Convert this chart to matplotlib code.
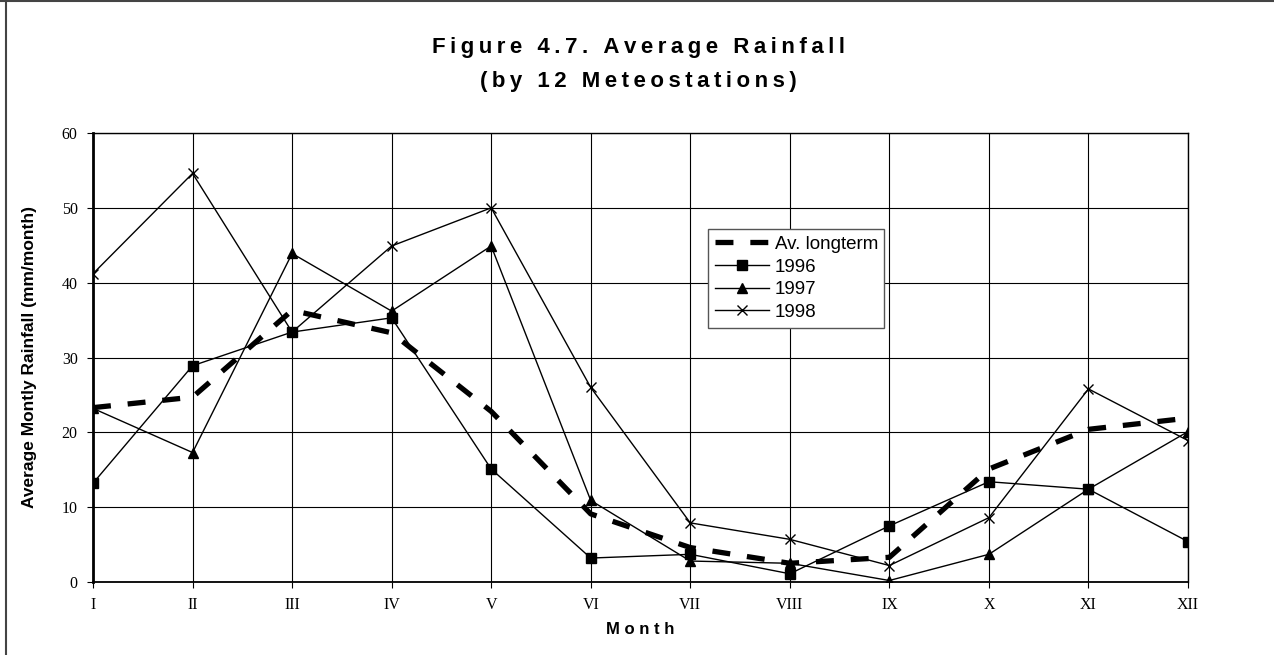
#---------------------------------------------------------------
#   Figure 4.7 - Average Rainfall (by 12 Meteostations)
#---------------------------------------------------------------
import matplotlib.pyplot as plt
from matplotlib.lines import Line2D

# dados (mm/mes)
meses = ['I', 'II', 'III', 'IV', 'V', 'VI', 'VII', 'VIII', 'IX', 'X', 'XI', 'XII']
av_longterm = [23.3, 24.7, 36.3, 33.3, 22.8, 9.1, 4.6, 2.5, 3.3, 15.1, 20.4, 21.9]
chuva_1996 = [13.2, 28.9, 33.4, 35.3, 15.1, 3.2, 3.7, 1.1, 7.5, 13.4, 12.4, 5.4]
chuva_1997 = [23.2, 17.3, 43.9, 36.2, 44.9, 10.9, 2.8, 2.5, 0.2, 3.7, 12.4, 20.1]
chuva_1998 = [41.2, 54.6, 33.4, 44.9, 50.0, 26.0, 7.9, 5.7, 2.2, 8.6, 25.8, 18.9]
yticks = [0, 10, 20, 30, 40, 50, 60]

serif = 'Liberation Serif'
sans = ['Liberation Sans', 'DejaVu Sans']

def espacado(txt):
    # espacamento entre letras, como no original do Excel
    return '\u2009'.join(txt)

fig = plt.figure(figsize=(12.74, 6.55), dpi=100)
ax = fig.add_axes([93/1274, 1-582/655, 1095/1274, 449/655])

x = list(range(len(meses)))
ax.plot(x, av_longterm, color='black', lw=3.8, dashes=(3.4, 3.2), label='Av. longterm', zorder=3)
ax.plot(x, chuva_1996, color='black', lw=1, marker='s', ms=7, label='1996', zorder=4)
ax.plot(x, chuva_1997, color='black', lw=1, marker='^', ms=7, label='1997', zorder=4)
ax.plot(x, chuva_1998, color='black', lw=1, marker='x', ms=7, mew=1, label='1998', zorder=4)

ax.set_xlim(0, len(meses) - 1)
ax.set_ylim(0, 60)
ax.set_xticks(x)
ax.set_xticklabels(meses, fontfamily=serif, fontsize=11.5)
ax.set_yticks(yticks)
ax.set_yticklabels([str(v) for v in yticks], fontfamily=serif, fontsize=11.5)
ax.tick_params(direction='out', length=4, width=0.8, colors='black', pad=7)
ax.grid(True, color='black', lw=0.8)

for s in ax.spines.values():
    s.set_color('black')
    s.set_linewidth(1)
ax.spines['left'].set_linewidth(2)
ax.spines['bottom'].set_linewidth(1.3)

ax.set_xlabel('M o n t h', fontfamily=sans, fontweight='bold', fontsize=12, labelpad=6)
ax.set_ylabel('Average Montly Rainfall (mm/month)', fontfamily=sans, fontweight='bold',
              fontsize=12.5, labelpad=18)

leg = ax.legend(loc='upper left', bbox_to_anchor=(0.5616, 0.786), borderaxespad=0,
                prop={'family': sans, 'size': 13.5}, fancybox=False, framealpha=1,
                edgecolor='#555555', handlelength=2.9, borderpad=0.35, labelspacing=0.3,
                handletextpad=0.3)
leg.get_frame().set_linewidth(1)

fig.text(0.501, 0.928, espacado('Figure 4.7. Average Rainfall'), ha='center', va='center',
         fontfamily=sans, fontweight='bold', fontsize=16)
fig.text(0.501, 0.875, espacado('(by 12 Meteostations)'), ha='center', va='center',
         fontfamily=sans, fontweight='bold', fontsize=16)

# moldura (so topo e esquerda aparecem no recorte)
fig.add_artist(Line2D([0, 1], [1 - 1/655, 1 - 1/655], color='#444444', lw=1.5))
fig.add_artist(Line2D([6/1274, 6/1274], [0, 1], color='#444444', lw=1.5))

fig.savefig('out.png', dpi=100)
